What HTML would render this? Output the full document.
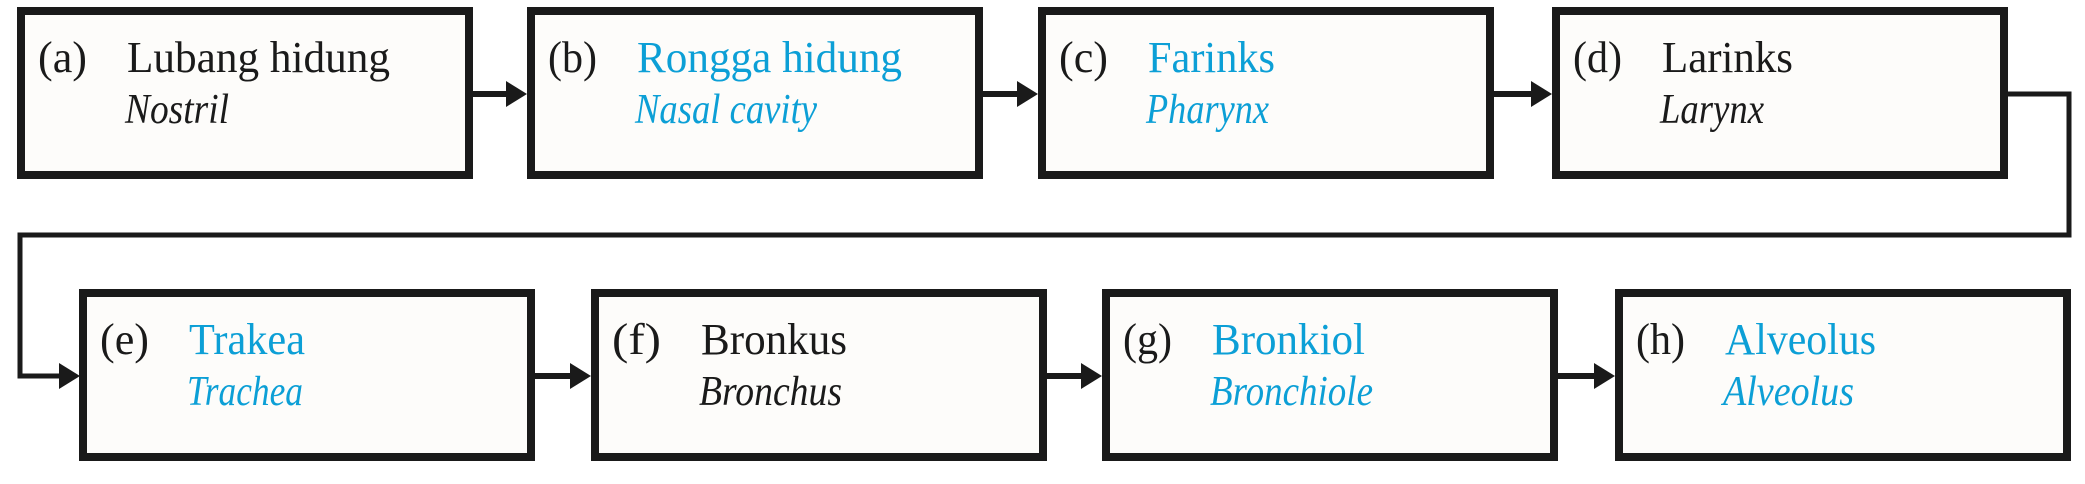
<!DOCTYPE html>
<html><head><meta charset="utf-8"><style>
html,body{margin:0;padding:0;background:#fff;}
svg{display:block;}
.l{font-family:"Liberation Serif",serif;font-size:44px;}
.i{font-family:"Liberation Serif",serif;font-size:42px;font-style:italic;}
</style></head><body>
<svg width="2085" height="484" viewBox="0 0 2085 484">
<defs><marker id="ah" markerWidth="10" markerHeight="10" refX="0" refY="0" viewBox="0 -13 20 26" markerUnits="userSpaceOnUse"></marker></defs>
<g id="boxes"></g>
</svg>
<script>
const labels=["(a)","(b)","(c)","(d)","(e)","(f)","(g)","(h)"];
const names=["Lubang hidung","Rongga hidung","Farinks","Larinks","Trakea","Bronkus","Bronkiol","Alveolus"];
const english=["Nostril","Nasal cavity","Pharynx","Larynx","Trachea","Bronchus","Bronchiole","Alveolus"];
const isBlue=[false,true,true,false,true,false,true,true];
const nameW=[263,265,127,131,116,146,153,151];
const engW=[104,182,123,104,116,143,163,131];
const NS="http://www.w3.org/2000/svg";
const svg=document.querySelector('svg');
const g=document.getElementById('boxes');
const lefts=[17,527,1038,1552,79,591,1102,1615];
const rowTop=[7,289];
const W=456,H=172,BW=8;
const BLUE="#0c9fd6",BLK="#1a1a1a";
function mk(t,a,p){const e=document.createElementNS(NS,t);for(const k in a)e.setAttribute(k,a[k]);(p||g).appendChild(e);return e;}
for(let i=0;i<8;i++){
  const x=lefts[i],y=rowTop[i<4?0:1];
  const grp=mk('g',{});
  
  
  mk('rect',{x:x+BW/2,y:y+BW/2,width:W-BW,height:H-BW,fill:'#fdfcfa',stroke:BLK,'stroke-width':BW},grp);
  const col=isBlue[i]?BLUE:BLK;
  const t1=mk('text',{x:x+21,y:y+65,class:'l',fill:BLK,textLength:49,lengthAdjust:'spacingAndGlyphs'},grp);t1.textContent=labels[i];
  
  
  const t2=mk('text',{x:x+110,y:y+65,class:'l',fill:col,textLength:nameW[i],lengthAdjust:'spacingAndGlyphs'},grp);t2.textContent=names[i];
  
  
  const t3=mk('text',{x:x+108,y:y+116,class:'i',fill:col,textLength:engW[i],lengthAdjust:'spacingAndGlyphs'},grp);t3.textContent=english[i];
  
  
}
function arrow(x1,x2,y){
  const a=mk('g',{});
  
  
  mk('line',{x1:x1,y1:y,x2:x2-18,y2:y,stroke:BLK,'stroke-width':6},a);
  mk('polygon',{points:`${x2-21},${y-13} ${x2},${y} ${x2-21},${y+13}`,fill:BLK},a);
}
for(const i of [0,1,2]) arrow(lefts[i]+W,lefts[i+1],94);
for(const i of [4,5,6]) arrow(lefts[i]+W,lefts[i+1],376);
const c=mk('polyline',{points:`${lefts[3]+W},94 2069,94 2069,235 20,235 20,376 62,376`,fill:'none',stroke:BLK,'stroke-width':5});


mk('polygon',{points:`59,363 80,376 59,389`,fill:BLK});
</script>
</body></html>
